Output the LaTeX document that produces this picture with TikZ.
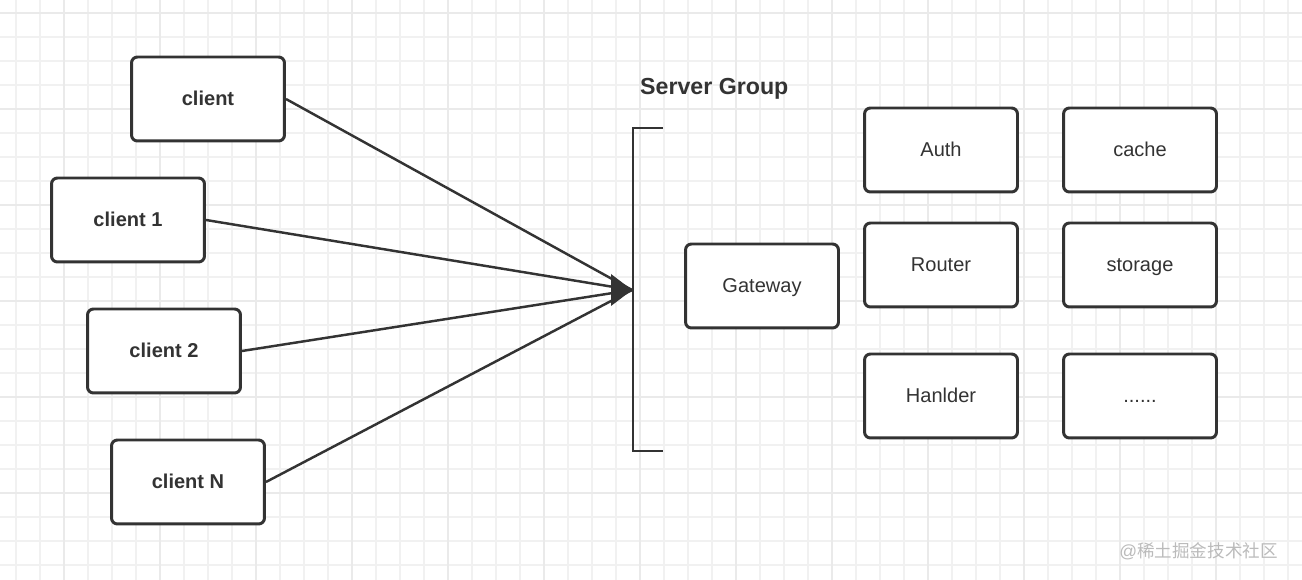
\documentclass[tikz,border=0pt]{standalone}
\usepackage{fontspec}
\setmainfont{Liberation Sans}
\newfontfamily\cjkfont{Noto Sans CJK SC}
\usepackage{xcolor}
\usetikzlibrary{arrows.meta,positioning,calc}
\definecolor{ink}{HTML}{333333}
\definecolor{gridlt}{HTML}{F1F1F1}
\definecolor{griddk}{HTML}{EAEAEA}
\definecolor{wmark}{HTML}{BBBBBB}

\begin{document}
\begin{tikzpicture}[x=0.02cm, y=-0.02cm,
  box/.style={draw=ink,fill=white,line width=1.7pt,rounded corners=0.12cm,
    minimum width=3.06cm,minimum height=1.68cm,inner sep=0pt,text=ink,
    text height=0.72em,text depth=0pt,
    font=\fontsize{11.4}{13}\selectfont},
  cbox/.style={box,font=\fontsize{11.4}{13}\selectfont\bfseries},
  link/.style={draw=ink,line width=1.4pt},
  minorln/.style={gridlt,line width=0.7pt},
  majorln/.style={griddk,line width=0.8pt}]
  \useasboundingbox (0,0) rectangle (1302,580);
  \fill[white] (0,0) rectangle (1302,580);
  %--- grid ---
  \foreach \x in {16,40,...,1302} \draw[minorln] (\x,0) -- (\x,580);
  \foreach \y in {13,37,...,580} \draw[minorln] (0,\y) -- (1302,\y);
  \foreach \x in {64,160,...,1302} \draw[majorln] (\x,0) -- (\x,580);
  \foreach \y in {13,109,...,580} \draw[majorln] (0,\y) -- (1302,\y);
  %--- clients ---
  \node[cbox] (c0) at (208, 99)  {client};
  \node[cbox] (c1) at (128,220)  {client 1};
  \node[cbox] (c2) at (164,351)  {client 2};
  \node[cbox] (cn) at (188,482)  {client N};
  %--- server group ---
  \node[anchor=west,text=ink,font=\fontsize{13.2}{15}\selectfont\bfseries] (sg) at (634,89) {Server Group};
  \coordinate (bt) at (663,128);
  \coordinate (bb) at (663,451);
  \coordinate (hub) at (632,290);
  \draw[ink,line width=1.6pt] (bt) -- (633,128) -- (633,451) -- (bb);
  \node[box] (gw) at (762,286) {Gateway};
  \node[box] (auth)  at (941,150) {Auth};
  \node[box] (cache) at (1140,150) {cache};
  \node[box] (rt)    at (941,265) {Router};
  \node[box] (st)    at (1140,265) {storage};
  \node[box] (hd)    at (941,396) {Hanlder};
  \node[box] (more)  at (1140,396) {......};
  %--- links ---
  \foreach \c in {c0,c1,c2,cn} \draw[link] (\c.east) -- (hub);
  \fill[ink] (hub) -- ++(-21,-16) -- ++(0,32) -- cycle;
  %--- watermark ---
  \node[anchor=east,text=wmark,font=\fontsize{10}{12}\selectfont] (wm) at (1284,551) {@{\cjkfont 稀土掘金技术社区}};
\end{tikzpicture}
\end{document}
